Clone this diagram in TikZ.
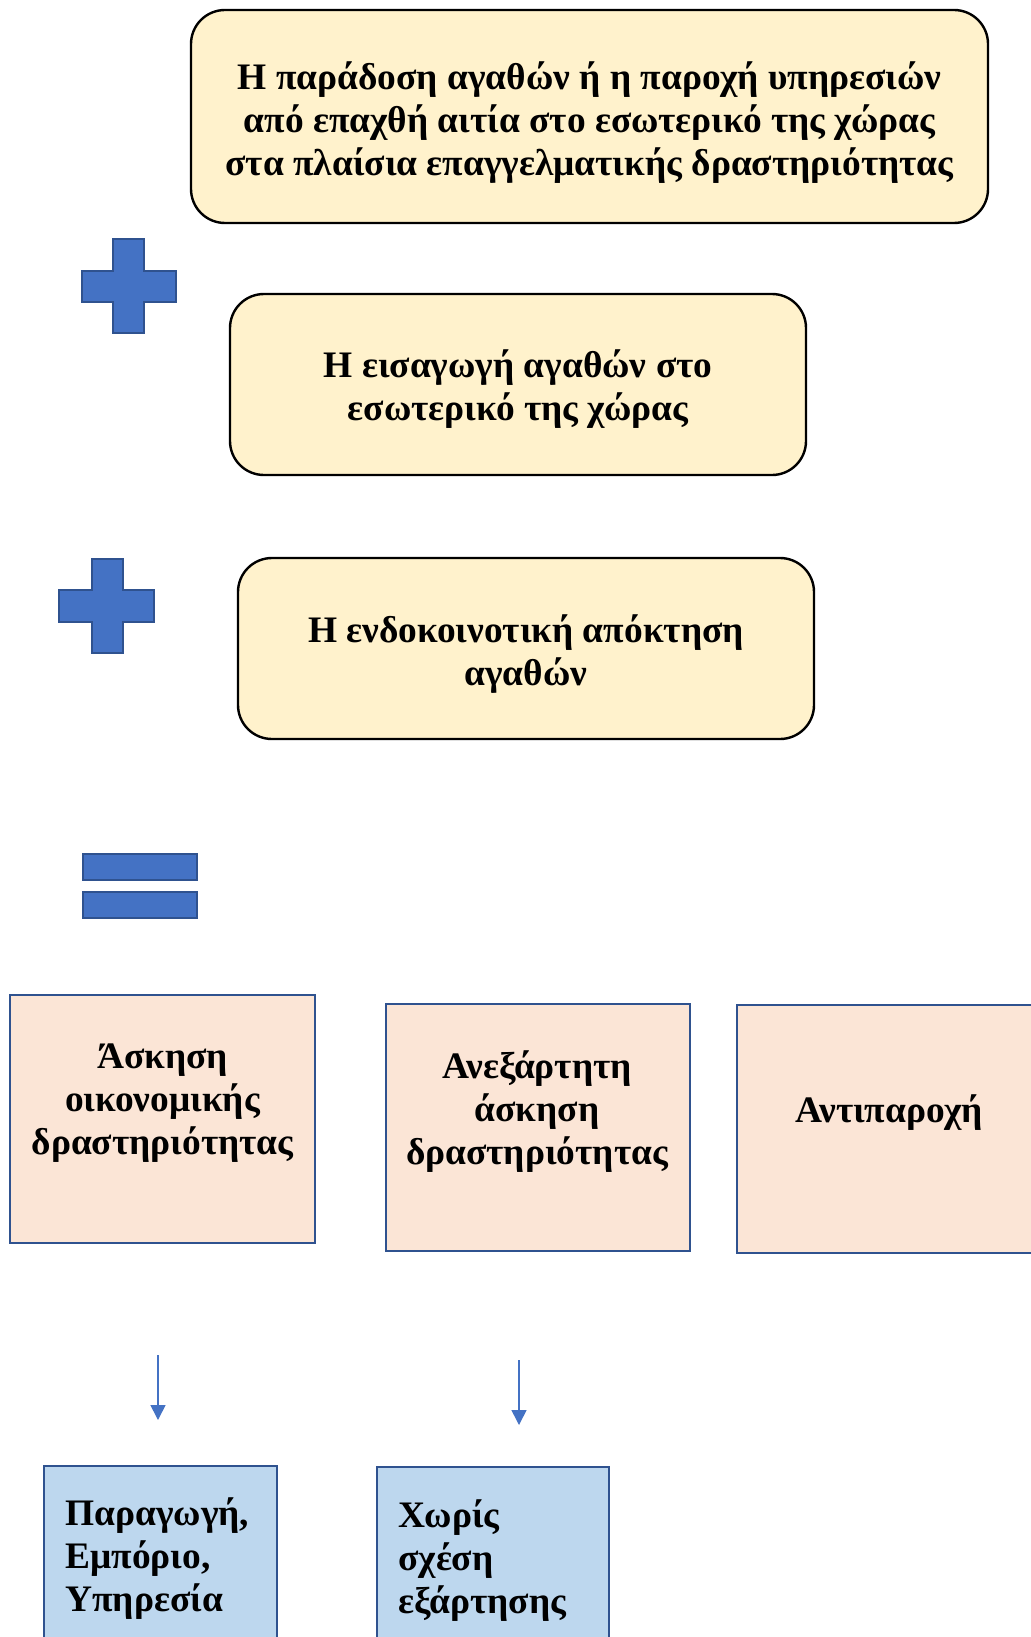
\documentclass[tikz,border=0pt]{standalone}
\usepackage{fontspec}
\setmainfont{Liberation Serif}
\usetikzlibrary{arrows.meta}
\definecolor{yel}{HTML}{FFF2CC}
\definecolor{pnk}{HTML}{FBE5D6}
\definecolor{lbl}{HTML}{BDD7EE}
\definecolor{acc}{HTML}{4472C4}
\definecolor{accd}{HTML}{2F528F}
\begin{document}
\begin{tikzpicture}[x=0.5pt,y=-0.5pt,
  txt/.style={font=\bfseries\fontsize{18.7}{21.5}\selectfont, inner sep=0},
  yellowbox/.style={draw=black, line width=1.2pt, fill=yel, rounded corners=17pt, inner sep=0},
  pinkbox/.style={draw=accd, line width=1.2pt, fill=pnk, inner sep=0},
  bluebox/.style={draw=accd, line width=1.2pt, fill=lbl, inner sep=0},
  sign/.style={draw=accd, line width=1pt, fill=acc},
  arr/.style={draw=acc, line width=0.8pt, -{Triangle[width=7.5pt,length=7.5pt]}}
]
\useasboundingbox (0,0) rectangle (1030,1637);

% top yellow boxes
\node[yellowbox, minimum width=398.5pt, minimum height=106.5pt] (top) at (589.5,116.5) {};
\node[txt, align=center] (toptxt) at (589.5,123) {Η παράδοση αγαθών ή η παροχή υπηρεσιών\\από επαχθή αιτία στο εσωτερικό της χώρας\\στα πλαίσια επαγγελματικής δραστηριότητας};

\node[yellowbox, minimum width=288pt, minimum height=90.5pt] (imp) at (518,384.5) {};
\node[txt, align=center] (imptxt) at (518,389) {Η εισαγωγή αγαθών στο\\εσωτερικό της χώρας};

\node[yellowbox, minimum width=288pt, minimum height=90.5pt] (intra) at (526,648.5) {};
\node[txt, align=center] (intratxt) at (526,654) {Η ενδοκοινοτική απόκτηση\\αγαθών};

% plus signs
\path[sign] (82,271) -- (113,271) -- (113,239) -- (144,239) -- (144,271) -- (176,271)
  -- (176,302) -- (144,302) -- (144,333) -- (113,333) -- (113,302) -- (82,302) -- cycle;
\path[sign] (59,590) -- (92,590) -- (92,559) -- (123,559) -- (123,590) -- (154,590)
  -- (154,622) -- (123,622) -- (123,653) -- (92,653) -- (92,622) -- (59,622) -- cycle;

% equals sign
\path[sign] (83,854) rectangle (197,880);
\path[sign] (83,892) rectangle (197,918);

% pink boxes
\node[pinkbox, minimum width=152.5pt, minimum height=124pt] (econ) at (162.5,1119) {};
\node[txt, align=center] (econtxt) at (162.5,1103) {Άσκηση\\οικονομικής\\δραστηριότητας};

\node[pinkbox, minimum width=152pt, minimum height=123.5pt] (indep) at (538,1127.5) {};
\node[txt, align=center] (indeptxt) at (537,1112) {Ανεξάρτητη\\άσκηση\\δραστηριότητας};

\node[pinkbox, minimum width=152pt, minimum height=124pt] (consid) at (889,1129) {};
\node[txt, align=center] (considtxt) at (889,1113) {Αντιπαροχή};

% arrows
\coordinate (a1s) at (158,1355);
\coordinate (a1e) at (158,1420);
\coordinate (a2s) at (519,1360);
\coordinate (a2e) at (519,1425);
\draw[arr] (a1s) -- (a1e);
\draw[arr] (a2s) -- (a2e);

% blue boxes
\node[bluebox, minimum width=116.5pt, minimum height=130pt] (prod) at (160.5,1596) {};
\node[txt, align=left, anchor=west] (prodtxt) at (65,1559) {Παραγωγή,\\Εμπόριο,\\Υπηρεσία};

\node[bluebox, minimum width=116pt, minimum height=130pt] (nodep) at (493,1597) {};
\node[txt, align=left, anchor=west] (nodeptxt) at (398,1561) {Χωρίς\\σχέση\\εξάρτησης};
\end{tikzpicture}
\end{document}
